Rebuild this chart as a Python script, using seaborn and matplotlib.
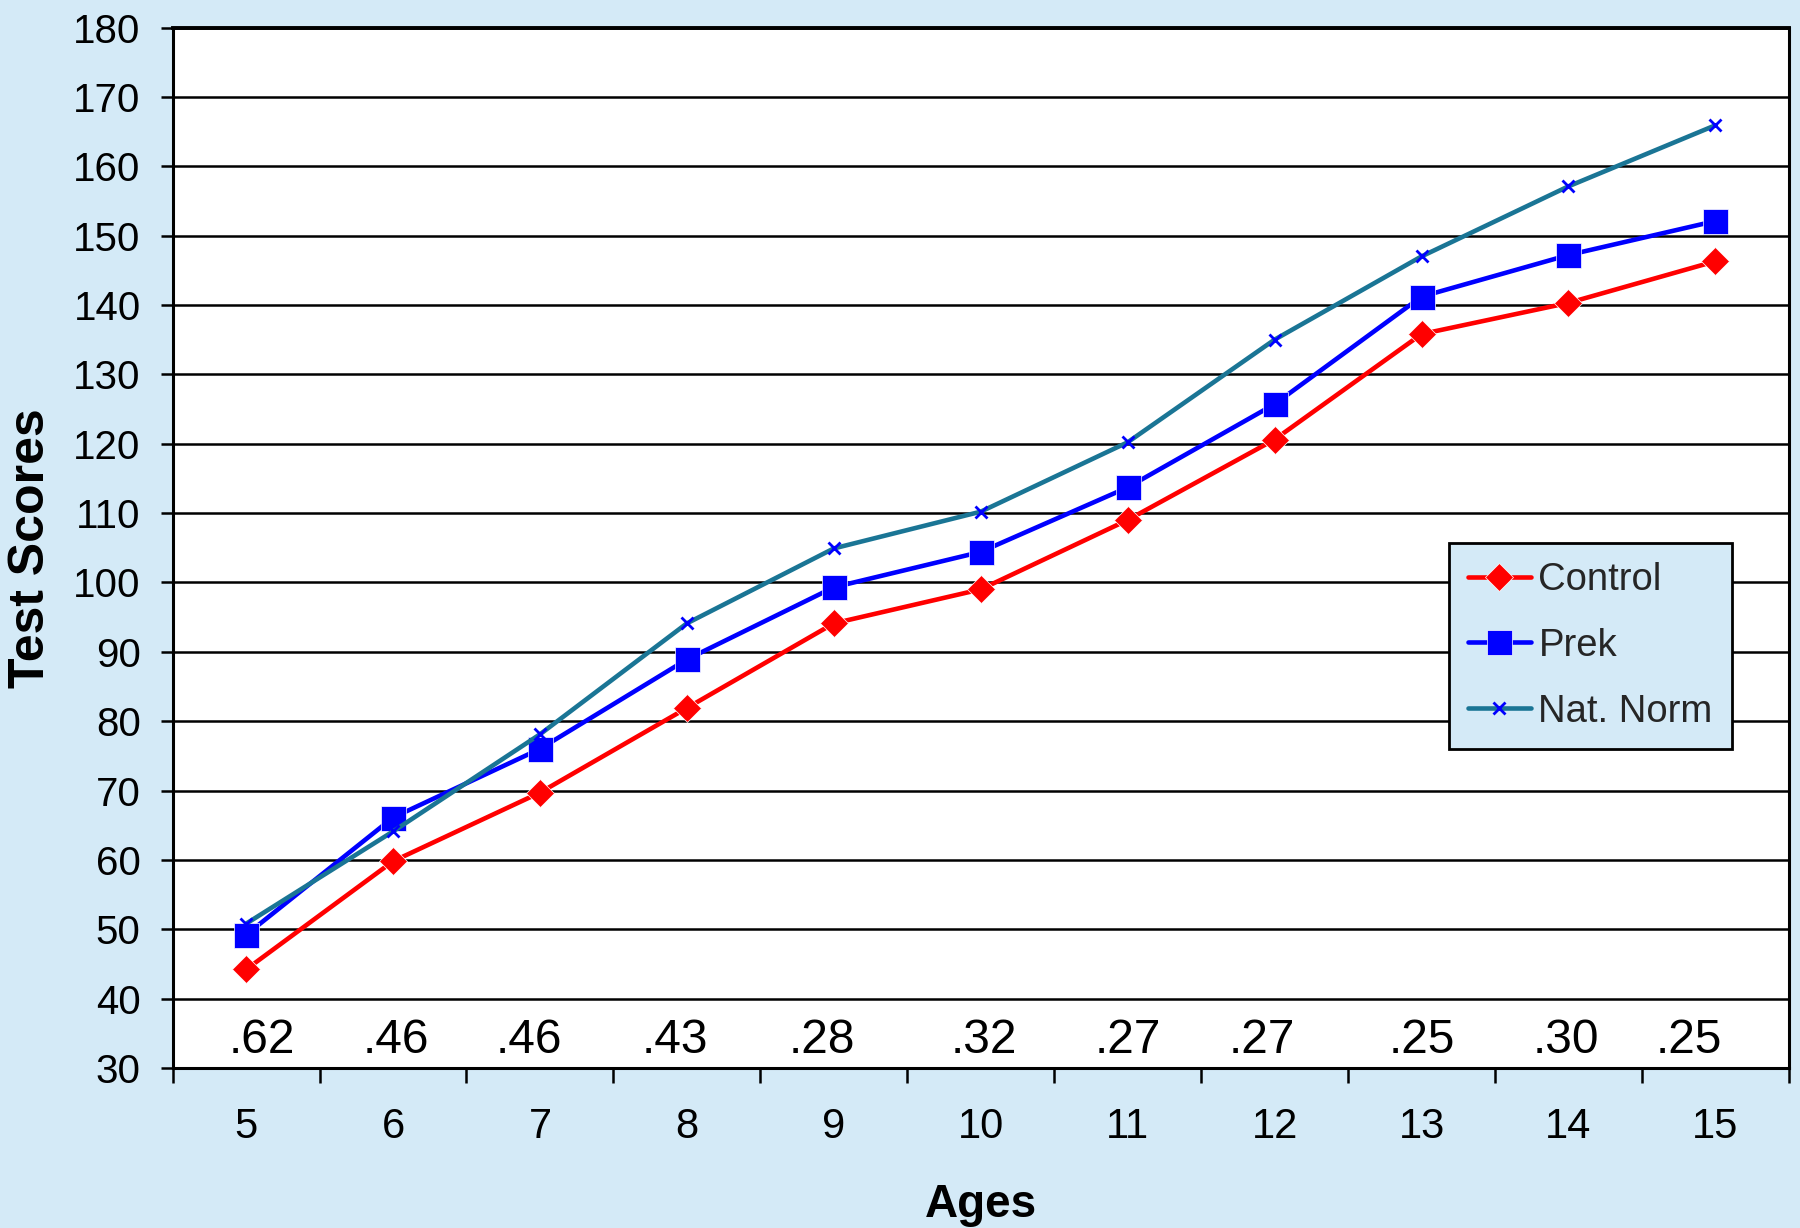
import matplotlib.pyplot as plt
import seaborn as sns
import pandas as pd
import numpy as np

# values
ages = [5, 6, 7, 8, 9, 10, 11, 12, 13, 14, 15]
control = [44.2, 59.8, 69.7, 81.9, 94.1, 99.0, 109.0, 120.6, 135.8, 140.3, 146.3]
prek = [49.2, 66.1, 76.0, 88.9, 99.3, 104.4, 113.7, 125.7, 141.2, 147.2, 152.1]
nat_norm = [50.8, 64.1, 78.1, 94.1, 104.9, 110.2, 120.2, 135.0, 147.0, 157.1, 165.9]
effect_sizes = [".62", ".46", ".46", ".43", ".28", ".32", ".27", ".27", ".25", ".30", ".25"]

df = pd.DataFrame({"Age": ages, "Control": control, "Prek": prek, "Nat. Norm": nat_norm})

bg = "#D4EAF7"
sns.set_theme(style="white", rc={"figure.facecolor": bg, "axes.facecolor": "white"})
plt.rcParams["font.family"] = ["Liberation Sans", "DejaVu Sans"]

fig = plt.figure(figsize=(18, 12.28), dpi=100)
ax = fig.add_axes([0.0959, 0.1303, 0.8979, 0.8473])

sns.lineplot(data=df, x="Age", y="Control", color="#FF0000", marker="D",
             markersize=14.5, markeredgewidth=0.5, linewidth=3.3, label="Control", ax=ax)
sns.lineplot(data=df, x="Age", y="Prek", color="#0000FF", marker="s",
             markersize=18, markeredgewidth=0.5, linewidth=3.3, label="Prek", ax=ax)
sns.lineplot(data=df, x="Age", y="Nat. Norm", color="#1A7595", marker="x",
             markersize=9, markeredgewidth=2, markeredgecolor="#0000FF",
             linewidth=3.3, label="Nat. Norm", ax=ax)

# axes, ticks and grid (Excel style: category ticks between ages)
ax.set_xlim(4.5, 15.5)
ax.set_ylim(30, 180)
ax.set_yticks(range(30, 181, 10))
ax.set_xticks(ages)
ax.set_xticks(np.arange(4.5, 16, 1), minor=True)
ax.tick_params(axis="x", which="major", bottom=True, length=0, pad=28, labelsize=30, colors="black")
ax.tick_params(axis="x", which="minor", bottom=True, length=11, width=1.8, direction="out", color="black")
ax.tick_params(axis="y", left=True, length=9, width=1.8, direction="out", pad=14,
               labelsize=29, colors="black")

ax.yaxis.grid(True, color="black", linewidth=1.8)
ax.xaxis.grid(False)
ax.set_axisbelow(True)
for side in ["left", "bottom", "right"]:
    ax.spines[side].set_color("black")
    ax.spines[side].set_linewidth(2.2)
ax.spines["top"].set_color("black")
ax.spines["top"].set_linewidth(2.8)

# effect sizes along the bottom
label_nudge = [0.11, 0.02, -0.075, -0.08, -0.08, 0.02, 0.0, -0.085, 0.0, -0.015, -0.18]
for a, s, d in zip(ages, effect_sizes, label_nudge):
    ax.text(a + d, 32.2, s, ha="center", va="baseline", fontsize=34.5, color="black")

ax.set_xlabel("Ages", fontsize=33, fontweight="bold", va="baseline", color="black")
ax.xaxis.set_label_coords(0.5, -0.1432)
ax.set_ylabel("Test Scores", fontsize=36, fontweight="bold", va="center", color="black")
ax.yaxis.set_label_coords(-0.0877, 0.5)

leg = ax.legend(loc="upper right", bbox_to_anchor=(0.9647, 0.5046), fontsize=27.5,
                frameon=True, facecolor=bg, edgecolor="black", framealpha=1,
                fancybox=False, handlelength=1.65, handletextpad=0.2,
                labelspacing=0.78, borderpad=0.5, borderaxespad=0)
leg.get_frame().set_linewidth(2)

fig.savefig("out.png", dpi=100, facecolor=bg)
